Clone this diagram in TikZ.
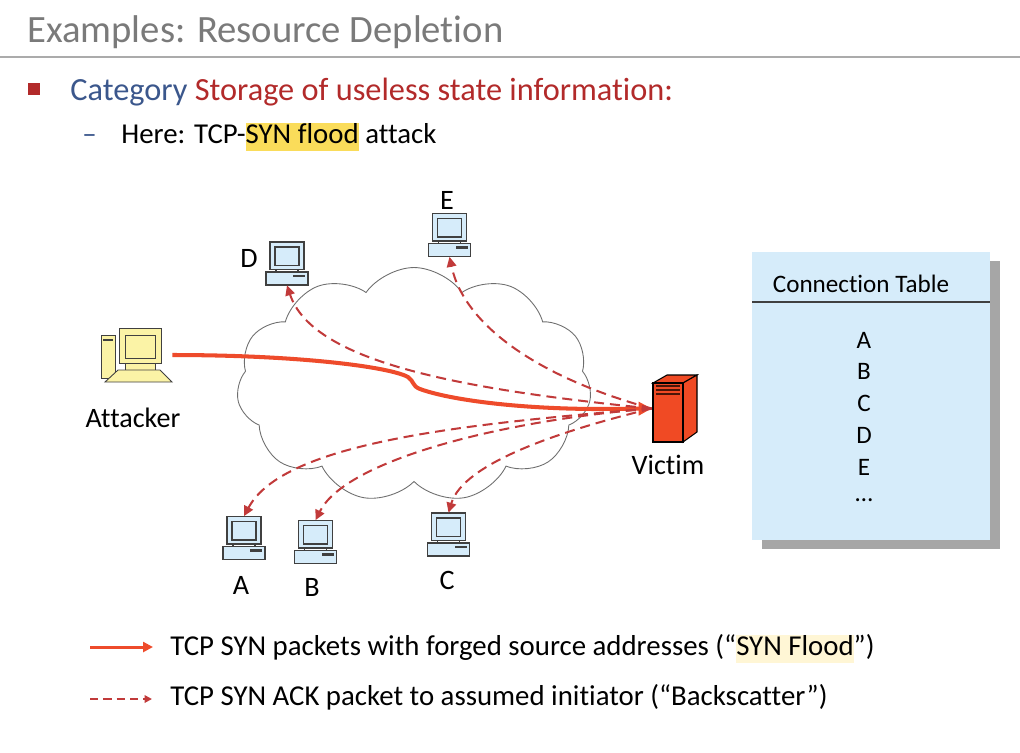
\documentclass[tikz,border=0pt]{standalone}
\usepackage{fontspec}
\setmainfont{Carlito}[Ligatures=NoCommon]
\usetikzlibrary{arrows.meta,shapes.symbols}

\definecolor{titlegray}{HTML}{7A7A7A}
\definecolor{rulegray}{HTML}{ABABAB}
\definecolor{catblue}{HTML}{3B578C}
\definecolor{catred}{HTML}{B22A2A}
\definecolor{hiyellow}{HTML}{FADC5A}
\definecolor{hicream}{HTML}{FFF6D5}
\definecolor{pcblue}{HTML}{D6ECFA}
\definecolor{attyellow}{HTML}{FBF3A6}
\definecolor{victimred}{HTML}{F04A24}
\definecolor{ventdark}{HTML}{4A1508}
\definecolor{synred}{HTML}{EE4B2B}
\definecolor{ackred}{HTML}{C13A3A}
\definecolor{iconline}{HTML}{404040}
\definecolor{cloudgray}{HTML}{6E6E6E}
\definecolor{shadowgray}{HTML}{A6A6A6}

\newcommand\markbg[2]{{\setlength\fboxsep{0pt}\colorbox{#1}{\rule[-4.5pt]{0pt}{15.9pt}#2}}}

\tikzset{
	lbl/.style={font=\fontsize{16pt}{19pt}\selectfont},
	bodytext/.style={font=\fontsize{16.4pt}{19.5pt}\selectfont},
	tabtext/.style={font=\fontsize{14.3pt}{17pt}\selectfont},
	synflood/.style={synred, line width=2.3pt, -{Triangle[length=0.26cm,width=0.26cm]}},
	backscatter/.style={ackred, line width=1.15pt, dash pattern=on 5.7pt off 3.4pt, -{Triangle[length=0.2cm,width=0.19cm]}},
	workstation/.pic={
		\node[inner sep=0pt, minimum width=0.84cm, minimum height=0.86cm] (-box) {};
		\draw[iconline, fill=pcblue, line width=0.8pt] (-17,21.5) rectangle (17,-6);
		\draw[iconline, fill=pcblue, line width=0.8pt] (-12,16.5) rectangle (12,-2);
		\draw[iconline, line width=0.8pt] (-11,-6) -- (-11,-8.5) (11,-6) -- (11,-8.5);
		\draw[iconline, fill=pcblue, line width=0.8pt] (-21,-8.5) rectangle (21,-21.5);
		\fill[iconline] (6,-11) rectangle (18,-13.5);
	},
	attackerpc/.pic={
		\node[inner sep=0pt, minimum width=1.44cm, minimum height=1.1cm] (-box) {};
		\draw[iconline, fill=attyellow, line width=0.5pt] (-35,20) rectangle (-21,-23);
		\draw[iconline, line width=0.8pt] (-33,15) -- (-23,15);
		\draw[iconline, fill=attyellow, line width=0.5pt] (-11,-8) rectangle (19,-15);
		\draw[iconline, fill=attyellow, line width=0.5pt] (-17,27) rectangle (25,-8);
		\draw[iconline, fill=attyellow, line width=0.5pt] (-11,20) rectangle (19,-3);
		\draw[iconline, fill=attyellow, line width=0.5pt] (-18,-15) -- (24,-15) -- (36,-27) -- (-31,-27) -- cycle;
	},
	server/.pic={
		\node[inner sep=0pt, minimum width=0.9cm, minimum height=1.34cm] (-box) {};
		\draw[black, fill=victimred, line width=0.6pt] (-21.5,25.5) -- (8.5,25.5) -- (22.5,33.5) -- (-7.5,33.5) -- cycle;
		\draw[black, fill=victimred, line width=0.6pt] (8.5,25.5) -- (22.5,33.5) -- (22.5,-23.5) -- (8.5,-33.5) -- cycle;
		\draw[black, fill=victimred, line width=0.6pt] (-21.5,25.5) rectangle (8.5,-33.5);
		\foreach \vy in {22.5,18.5,14.5}
			\draw[ventdark, line width=1.2pt] (-18.5,\vy) -- (5.5,\vy);
	},
}

\begin{document}
\begin{tikzpicture}[x=0.02cm, y=0.02cm]
			\useasboundingbox (0,0) rectangle (1020,-752);
			
			%%%%% HEADER %%%%%
			\node[anchor=base west, inner sep=0pt, text=titlegray, font=\fontsize{22pt}{26pt}\selectfont] (title) at (27,-42) {Examples: Resource Depletion};
			\draw[rulegray, line width=1.2pt] (0,-57) -- (1020,-57);
			
			\fill[catred] (28,-83) rectangle (40,-95);
			\node[anchor=base west, inner sep=0pt, font=\fontsize{18.4pt}{22pt}\selectfont] (category) at (70,-100) {\textcolor{catblue}{Category} \textcolor{catred}{Storage of useless state information:}};
			\node[bodytext, anchor=base west, inner sep=0pt, text=catblue] (dash) at (82,-143) {–};
			\node[bodytext, anchor=base west, inner sep=0pt] (here) at (121,-143) {Here: TCP-\markbg{hiyellow}{SYN flood} attack};
			
			%%%%% NETWORK %%%%%
			\node[cloud, draw=cloudgray, line width=0.5pt, cloud puffs=11, cloud puff arc=110, aspect=1.5, minimum width=7.1cm, minimum height=4.7cm, inner sep=0pt] (net) at (414,-385) {};
			
			\pic (attacker) at (136,-355) {attackerpc};
			\pic (victim) at (674.5,-408.5) {server};
			\pic (pcA) at (244,-538) {workstation};
			\pic (pcB) at (315.5,-542) {workstation};
			\pic (pcC) at (448.5,-534.5) {workstation};
			\pic (pcD) at (287,-263.5) {workstation};
			\pic (pcE) at (449.5,-235) {workstation};
			
			\node[lbl] (attackerlabel) at (133,-418) {Attacker};
			\node[lbl] (victimlabel) at (668,-465) {Victim};
			\node[lbl] (labelA) at (241,-585) {A};
			\node[lbl] (labelB) at (312,-587) {B};
			\node[lbl] (labelC) at (447,-580) {C};
			\node[lbl] (labelD) at (249,-258) {D};
			\node[lbl] (labelE) at (447,-200) {E};
			
			% forged SYN packets
			\draw[synflood] (attacker-box.east) .. controls (300,-355) and (390,-367) .. (408,-377) .. controls (414,-381) and (412,-386) .. (420,-389) .. controls (450,-400) and (520,-409) .. (600,-409) -- (victim-box.west);
			
			% backscatter
			\draw[backscatter] (victim-box.west) .. controls +(-200,20) and +(25,-75) .. (pcD-box.south);
			\draw[backscatter] (victim-box.west) .. controls +(-110,30) and +(15,-70) .. (pcE-box.south);
			\draw[backscatter] (victim-box.west) .. controls +(-180,-15) and +(40,75) .. (pcA-box.north);
			\draw[backscatter] (victim-box.west) .. controls +(-150,-12) and +(30,60) .. (pcB-box.north);
			\draw[backscatter] (victim-box.west) .. controls +(-90,-22) and +(15,50) .. (pcC-box.north);
			
			%%%%% CONNECTION TABLE %%%%%
			\fill[shadowgray] (762,-261) rectangle (1000,-549);
			\node[fill=pcblue, anchor=north west, minimum width=4.76cm, minimum height=5.76cm, inner sep=0pt] (conntable) at (752,-252) {};
			\draw[iconline, line width=0.7pt] (752,-302) -- (990,-302);
			\node[tabtext] (tablehead) at (861,-284) {Connection Table};
			\foreach \entry/\ey in {A/340, B/371, C/403, D/435, E/467}
				\node[tabtext] (entry\entry) at (864,-\ey) {\entry};
			\node[tabtext] (entrydots) at (864,-500) {…};
			
			%%%%% LEGEND %%%%%
			\coordinate (synstart) at (90,-647);
			\coordinate (synend) at (153,-647);
			\coordinate (ackstart) at (90,-699);
			\coordinate (ackend) at (152,-699);
			\draw[synred, line width=1.7pt, -{Triangle[length=0.2cm,width=0.2cm]}] (synstart) -- (synend);
			\draw[ackred, line width=1.2pt, dash pattern=on 4.8pt off 2.8pt, -{Triangle[length=0.15cm,width=0.15cm]}] (ackstart) -- (ackend);
			\node[bodytext, anchor=base west, inner sep=0pt] (legsyn) at (170,-655) {TCP SYN packets with forged source addresses (“\markbg{hicream}{SYN Flood}”)};
			\node[bodytext, anchor=base west, inner sep=0pt] (legack) at (170,-705) {TCP SYN ACK packet to assumed initiator (“Backscatter”)};
		\end{tikzpicture}
\end{document}
